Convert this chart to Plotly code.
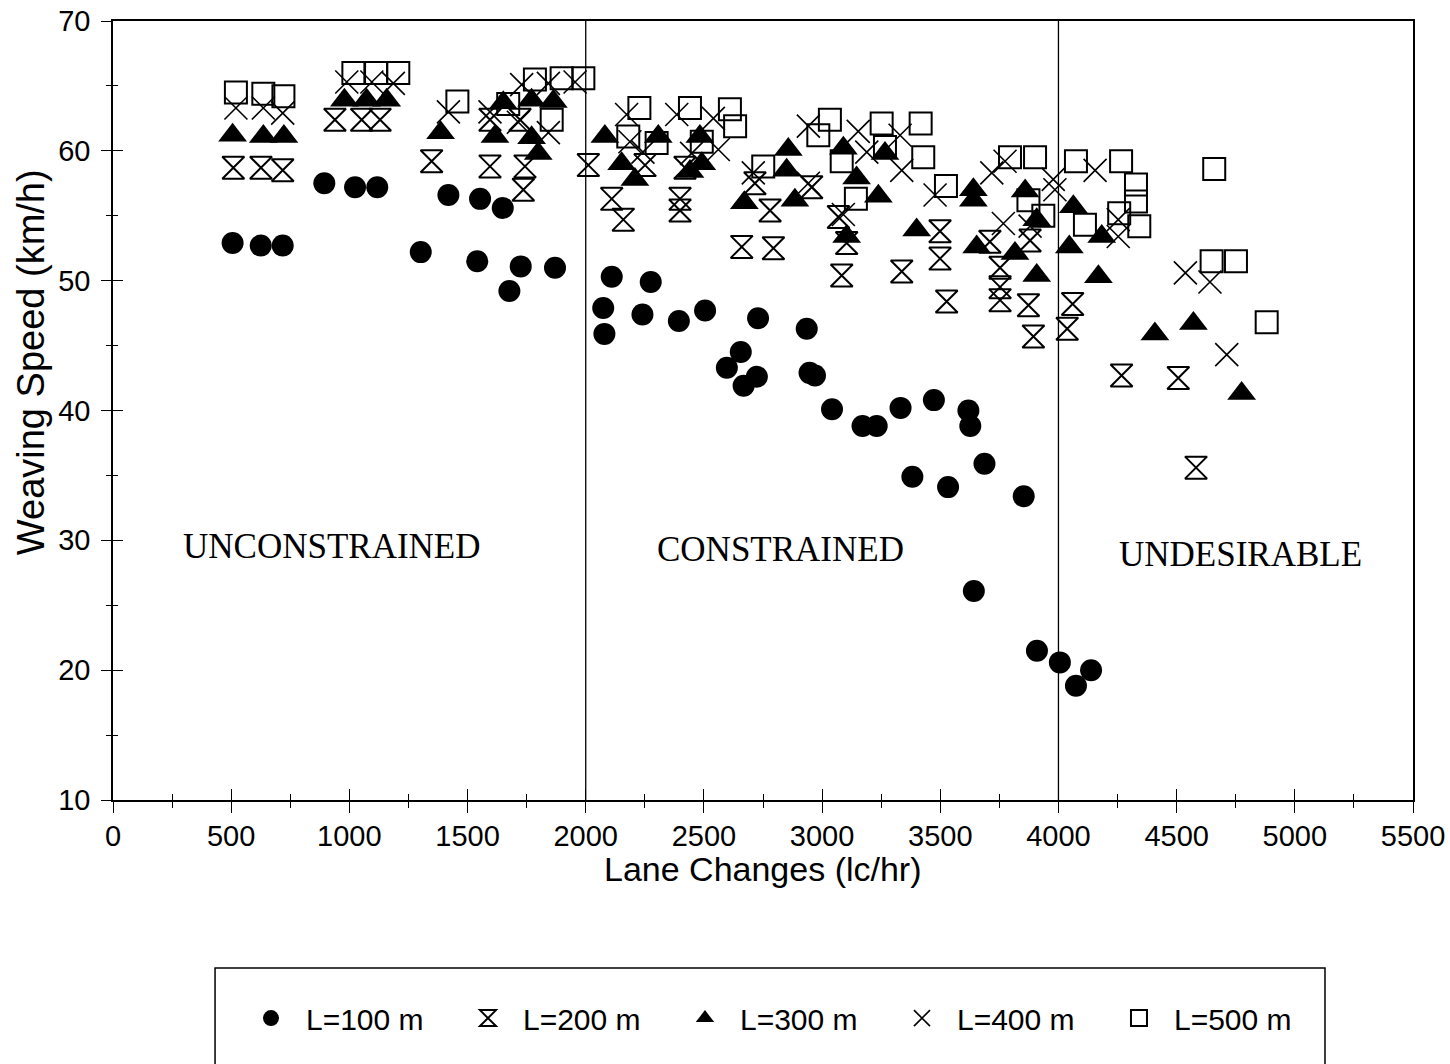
import plotly.graph_objects as go

# ---------------- data ----------------
series_names = ["L=100 m", "L=200 m", "L=300 m", "L=400 m", "L=500 m"]

L100_x = [506, 625, 718, 894, 1024, 1118, 1302, 1419, 1553, 1649, 1541, 1677, 1725, 1870,
          2074, 2079, 2110, 2240, 2275, 2394, 2505, 2729, 2935, 2656, 2597, 2724, 2668, 2947,
          2970, 3042, 3171, 3231, 3332, 3473, 3619, 3627, 3687, 3382, 3533, 3853, 3642, 3909,
          4006, 4074, 4138]
L100_y = [52.9, 52.7, 52.7, 57.5, 57.2, 57.2, 52.2, 56.6, 56.3, 55.6, 51.5, 49.2, 51.1, 51.0,
          47.9, 45.9, 50.3, 47.4, 49.9, 46.9, 47.7, 47.1, 46.3, 44.5, 43.3, 42.6, 41.9, 42.9,
          42.7, 40.1, 38.8, 38.8, 40.2, 40.8, 40.0, 38.8, 35.9, 34.9, 34.1, 33.4, 26.1, 21.5,
          20.6, 18.8, 20.0]

L200_x = [509, 626, 718, 939, 1052, 1130, 1348, 1595, 1743, 1736, 1595, 1722, 2011, 2110,
          2159, 2251, 2399, 2399, 2420, 2660, 2794, 2780, 2716, 2956, 3069, 3104, 3083, 3337,
          3499, 3499, 3527, 3710, 3753, 3753, 3753, 3873, 3894, 3880, 4060, 4037, 4267, 4507,
          4582]
L200_y = [58.7, 58.7, 58.5, 62.4, 62.4, 62.4, 59.2, 58.8, 58.8, 57.0, 62.4, 62.4, 58.9, 56.3,
          54.7, 58.9, 56.3, 55.4, 58.7, 52.6, 52.5, 55.4, 57.5, 57.2, 54.9, 52.9, 50.4, 50.7,
          53.8, 51.7, 48.4, 53.0, 51.0, 49.5, 48.5, 48.1, 45.7, 53.1, 48.2, 46.3, 42.7, 42.5,
          35.6]

L300_x = [506, 636, 723, 979, 1073, 1158, 1386, 1616, 1651, 1771, 1863, 1771, 1799, 2081,
          2307, 2483, 2152, 2208, 2441, 2491, 2671, 2857, 2850, 2885, 3090, 3266, 3146, 3238,
          3104, 3400, 3640, 3640, 3654, 3859, 3908, 3816, 3908, 4063, 4183, 4046, 4169, 4408,
          4571, 4775]
L300_y = [61.2, 61.1, 61.1, 63.9, 63.9, 63.9, 61.4, 61.1, 63.7, 63.9, 63.8, 61.0, 59.8, 61.1,
          61.1, 61.1, 59.0, 57.8, 58.4, 59.0, 56.0, 60.1, 58.5, 56.2, 60.2, 59.8, 57.9, 56.5,
          53.4, 53.9, 57.0, 56.2, 52.6, 56.9, 54.7, 52.1, 50.4, 55.7, 53.4, 52.6, 50.3, 45.9,
          46.7, 41.3]

L400_x = [520, 636, 718, 989, 1095, 1186, 1419, 1595, 1729, 1842, 1955, 1842, 1715, 2173,
          2385, 2540, 2187, 2242, 2561, 2448, 2709, 2942, 2942, 3153, 3330, 3189, 3337, 3090,
          3478, 3718, 3774, 3767, 3880, 3978, 3985, 4155, 4253, 4253, 4537, 4641, 4712]
L400_y = [63.3, 63.3, 62.9, 65.3, 65.3, 65.2, 63.0, 63.0, 65.1, 65.2, 65.3, 61.4, 62.2, 62.8,
          62.8, 62.5, 60.7, 59.9, 60.1, 59.8, 58.3, 61.9, 57.5, 61.5, 61.2, 59.9, 58.5, 55.1,
          56.6, 58.3, 59.2, 54.4, 54.2, 57.8, 57.0, 58.5, 53.4, 54.7, 50.6, 49.9, 44.3]

L500_x = [520, 636, 721, 1017, 1113, 1207, 1457, 1672, 1785, 1898, 1990, 1856, 2227, 2441,
          2610, 2632, 2180, 2300, 2491, 2751, 2984, 3033, 3252, 3417, 3266, 3428, 3083, 3143,
          3524, 3795, 3901, 3873, 3936, 4074, 4265, 4328, 4328, 4257, 4342, 4112, 4659, 4648,
          4751, 4881]
L500_y = [64.5, 64.4, 64.2, 66.0, 66.0, 66.0, 63.8, 63.6, 65.5, 65.6, 65.6, 62.4, 63.3, 63.3,
          63.2, 61.9, 61.1, 60.6, 60.7, 58.8, 61.2, 62.4, 62.1, 62.1, 60.3, 59.5, 59.2, 56.3,
          57.3, 59.5, 59.5, 56.2, 55.0, 59.2, 59.2, 57.4, 56.1, 55.2, 54.2, 54.3, 58.6, 51.5,
          51.5, 46.8]

region_labels = ["UNCONSTRAINED", "CONSTRAINED", "UNDESIRABLE"]
region_boundaries = [2000, 4000]

x_title = "Lane Changes (lc/hr)"
y_title = "Weaving Speed (km/h)"

# ---------------- styling ----------------
SANS = "Liberation Sans, Arial, sans-serif"
SERIF = "Liberation Serif, Times New Roman, serif"

xs = [L100_x, L200_x, L300_x, L400_x, L500_x]
ys = [L100_y, L200_y, L300_y, L400_y, L500_y]
markers = [
    dict(symbol="circle", size=22, color="black", line=dict(width=0)),
    dict(symbol="hourglass-open", size=22, color="black", line=dict(width=2, color="black")),
    dict(symbol="triangle-up", size=25, color="black", line=dict(width=0)),
    dict(symbol="x-thin-open", size=23, color="black", line=dict(width=1.6, color="black")),
    dict(symbol="square-open", size=22, color="black", line=dict(width=2, color="black")),
]

fig = go.Figure()
for name, x, y, m in zip(series_names, xs, ys, markers):
    fig.add_trace(go.Scatter(x=x, y=y, mode="markers", name=name, marker=m))

# dummy trace on overlay axes (for inside half of crossing ticks)
fig.add_trace(go.Scatter(x=[None], y=[None], xaxis="x2", yaxis="y2",
                         showlegend=False, hoverinfo="skip", mode="markers"))

tickfont = dict(family=SANS, size=29, color="black")

fig.update_layout(
    width=1450, height=1064,
    margin=dict(l=113, r=37, t=21, b=264, autoexpand=False),
    paper_bgcolor="white", plot_bgcolor="white",
    font=dict(family=SANS, color="black"),
    xaxis=dict(range=[0, 5500], tick0=0, dtick=500, ticks="outside", ticklen=11,
               tickwidth=1.3, tickcolor="black",
               minor=dict(dtick=250, ticks="outside", ticklen=6, tickwidth=1.2, tickcolor="black"),
               showline=True, linecolor="black", linewidth=1.5, mirror=True, automargin=False,
               showgrid=False, zeroline=False, tickfont=tickfont, ticklabelstandoff=-2,
               ticklabeloverflow="allow"),
    yaxis=dict(range=[10, 70], tick0=10, dtick=10, ticks="outside", ticklen=10,
               tickwidth=1.3, tickcolor="black",
               minor=dict(dtick=5, ticks="outside", ticklen=5, tickwidth=1.2, tickcolor="black"),
               showline=True, linecolor="black", linewidth=1.5, mirror=True, automargin=False,
               showgrid=False, zeroline=False, tickfont=tickfont, ticklabelstandoff=5,
               ticklabeloverflow="allow"),
    xaxis2=dict(overlaying="x", anchor="y2", side="bottom", range=[0, 5500], tick0=0, dtick=500,
                ticks="inside", ticklen=11, tickwidth=1.3, tickcolor="black",
                minor=dict(dtick=250, ticks="inside", ticklen=6, tickwidth=1.2, tickcolor="black"),
                showticklabels=False, showline=False, showgrid=False, zeroline=False),
    yaxis2=dict(overlaying="y", anchor="x2", side="left", range=[10, 70], tick0=10, dtick=10,
                ticks="inside", ticklen=10, tickwidth=1.3, tickcolor="black",
                minor=dict(dtick=5, ticks="inside", ticklen=5, tickwidth=1.2, tickcolor="black"),
                showticklabels=False, showline=False, showgrid=False, zeroline=False),
    legend=dict(orientation="h", x=0.0946, xanchor="left", y=-0.28, yanchor="middle",
                font=dict(family=SANS, size=30, color="black"),
                bgcolor="rgba(0,0,0,0)", borderwidth=0, itemwidth=60,
                entrywidth=142, entrywidthmode="pixels", traceorder="normal"),
    showlegend=True,
)

# region boundary lines
for b in region_boundaries:
    fig.add_shape(type="line", xref="x", yref="paper", x0=b, x1=b, y0=0, y1=1,
                  line=dict(color="black", width=1.3))

# region labels
label_pos = [(926, 29.5), (2822, 29.3), (4772, 28.9)]
for txt, (lx, ly) in zip(region_labels, label_pos):
    fig.add_annotation(x=lx, y=ly, xref="x", yref="y", text=txt, showarrow=False,
                       font=dict(family=SERIF, size=35, color="black"))

# axis titles
fig.add_annotation(x=0.5, y=-0.0886, xref="paper", yref="paper", text=x_title,
                   showarrow=False, xanchor="center", yanchor="middle",
                   font=dict(family=SANS, size=34, color="black"))
fig.add_annotation(x=-0.0631, y=0.562, xref="paper", yref="paper", text=y_title,
                   showarrow=False, textangle=-90, xanchor="center", yanchor="middle",
                   font=dict(family=SANS, size=38, color="black"))

# legend frame (extends below the page edge as in the reference)
fig.add_shape(type="rect", xref="paper", yref="paper", x0=0.0785, x1=0.9323,
              y0=-0.2157, y1=-0.37, line=dict(color="black", width=1.5),
              fillcolor="rgba(0,0,0,0)", layer="below")

# remove the default page margin so the figure fills the window exactly
fig.write_html("out.html",
               config={"displayModeBar": False},
               post_script="document.body.style.margin='0';document.body.style.overflow='hidden';")
